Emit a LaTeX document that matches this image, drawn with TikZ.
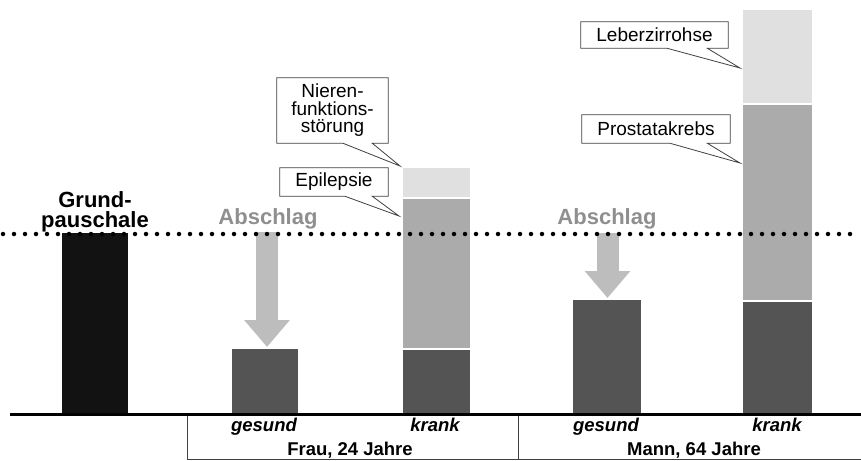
\documentclass[tikz,border=0pt]{standalone}
\usepackage{fontspec}
\setmainfont{Liberation Sans}
\usetikzlibrary{positioning,arrows.meta}

\definecolor{fastschwarz}{gray}{0.07}
\definecolor{dunkel}{gray}{0.33}
\definecolor{mittel}{gray}{0.67}
\definecolor{hell}{gray}{0.88}
\definecolor{pfeilgrau}{gray}{0.74}
\definecolor{schriftgrau}{gray}{0.56}

\tikzset{
  balken/.style={inner sep=0pt, outer sep=0pt, anchor=south},
  titel/.style={font=\fontsize{22}{20}\selectfont\bfseries, inner sep=0pt, anchor=base, align=center},
  abschlag/.style={titel, text=schriftgrau},
  kategorie/.style={font=\fontsize{18.5}{20}\selectfont\bfseries\itshape, inner sep=0pt, anchor=base},
  gruppe/.style={font=\fontsize{18.5}{20}\selectfont\bfseries, inner sep=0pt, anchor=base},
  hinweis/.style={font=\fontsize{19}{17.5}\selectfont, inner xsep=10pt, inner ysep=3pt, align=center},
  rahmen/.style={draw=black!75, line width=0.8pt},
  pfeil/.style={draw=pfeilgrau, line width=22pt, -{Triangle[width=44pt,length=27pt]}},
  punktlinie/.style={line width=4.5pt, line cap=round, dash pattern=on 0pt off 11pt}
}

\begin{document}
\begin{tikzpicture}[x=1pt,y=-1pt]
  \useasboundingbox (0,0) rectangle (861,460);

  % Balken
  \node[balken, fill=fastschwarz, minimum width=66pt, minimum height=180pt] (grund) at (95,413) {};
  \node[balken, fill=dunkel, minimum width=66pt, minimum height=64pt] (frauGesund) at (265,413) {};
  \node[balken, fill=dunkel, minimum width=67pt, minimum height=63pt] (frauKrank) at (436.5,413) {};
  \node[balken, fill=mittel, minimum width=67pt, minimum height=149pt, above=2pt of frauKrank] (segEpilepsie) {};
  \node[balken, fill=hell, minimum width=67pt, minimum height=29pt, above=2pt of segEpilepsie] (segNieren) {};
  \node[balken, fill=dunkel, minimum width=68pt, minimum height=113pt] (mannGesund) at (607,413) {};
  \node[balken, fill=dunkel, minimum width=69pt, minimum height=111pt] (mannKrank) at (777.5,413) {};
  \node[balken, fill=mittel, minimum width=69pt, minimum height=195pt, above=2pt of mannKrank] (segProstata) {};
  \node[balken, fill=hell, minimum width=69pt, minimum height=93pt, above=2pt of segProstata] (segLeber) {};

  % Abschlag
  \coordinate (frauPfeil) at (267,232);
  \coordinate (frauPfeilEnde) at (267,347);
  \coordinate (mannPfeil) at (607.5,233);
  \coordinate (mannPfeilEnde) at (607.5,298);
  \draw[pfeil] (frauPfeil) -- (frauPfeilEnde);
  \draw[pfeil] (mannPfeil) -- (mannPfeilEnde);
  \node[abschlag] (frauAbschlag) at (268,224) {Abschlag};
  \node[abschlag] (mannAbschlag) at (607,224) {Abschlag};

  % Grundpauschale
  \node[titel] (grundText) at (95,227) {Grund-\\pauschale};

  % Hinweise
  \node[hinweis, minimum width=147pt, minimum height=26pt] (boxLeber) at (654.5,35) {Leberzirrohse};
  \node[hinweis, minimum width=148pt, minimum height=28pt] (boxProstata) at (656,129) {Prostatakrebs};
  \node[hinweis, minimum width=108pt, minimum height=28pt] (boxEpilepsie) at (334,182) {Epilepsie};
  \node[hinweis, minimum width=111pt, minimum height=65pt] (boxNieren) at (332.5,110.5) {Nieren-\\funktions-\\störung};
  \coordinate (spitzeLeber) at (740,68);
  \coordinate (spitzeProstata) at (740,163);
  \coordinate (spitzeEpilepsie) at (399,216);
  \coordinate (spitzeNieren) at (400,166);
  \draw[rahmen] (boxLeber.south west) -- (boxLeber.north west) -- (boxLeber.north east) -- (boxLeber.south east)
    -- ([xshift=-21pt]boxLeber.south east) -- (spitzeLeber) -- ([xshift=86pt]boxLeber.south west) -- cycle;
  \draw[rahmen] (boxProstata.south west) -- (boxProstata.north west) -- (boxProstata.north east) -- (boxProstata.south east)
    -- ([xshift=-23pt]boxProstata.south east) -- (spitzeProstata) -- ([xshift=88pt]boxProstata.south west) -- cycle;
  \draw[rahmen] (boxEpilepsie.south west) -- (boxEpilepsie.north west) -- (boxEpilepsie.north east) -- (boxEpilepsie.south east)
    -- ([xshift=-16pt]boxEpilepsie.south east) -- (spitzeEpilepsie) -- ([xshift=65pt]boxEpilepsie.south west) -- cycle;
  \draw[rahmen] (boxNieren.south west) -- (boxNieren.north west) -- (boxNieren.north east) -- (boxNieren.south east)
    -- ([xshift=-16pt]boxNieren.south east) -- (spitzeNieren) -- ([xshift=66pt]boxNieren.south west) -- cycle;

  % Linien
  \coordinate (punktLinks) at (3,234);
  \coordinate (punktRechts) at (861,234);
  \draw[punktlinie] (punktLinks) -- (punktRechts);
  \coordinate (achseLinks) at (10,414.5);
  \coordinate (achseRechts) at (861,414.5);
  \draw[line width=3pt] (achseLinks) -- (achseRechts);

  % Beschriftung unten
  \draw[rahmen, line width=1pt] (862,459) -- (187,459) -- (187,416);
  \draw[rahmen, line width=1pt] (518,416) -- (518,459);
  \node[kategorie] (frauGesundText) at (264,431) {gesund};
  \node[kategorie] (frauKrankText) at (435,431) {krank};
  \node[kategorie] (mannGesundText) at (606,431) {gesund};
  \node[kategorie] (mannKrankText) at (777,431) {krank};
  \node[gruppe] (frauText) at (350,455) {Frau, 24 Jahre};
  \node[gruppe] (mannText) at (694,455) {Mann, 64 Jahre};
\end{tikzpicture}
\end{document}
